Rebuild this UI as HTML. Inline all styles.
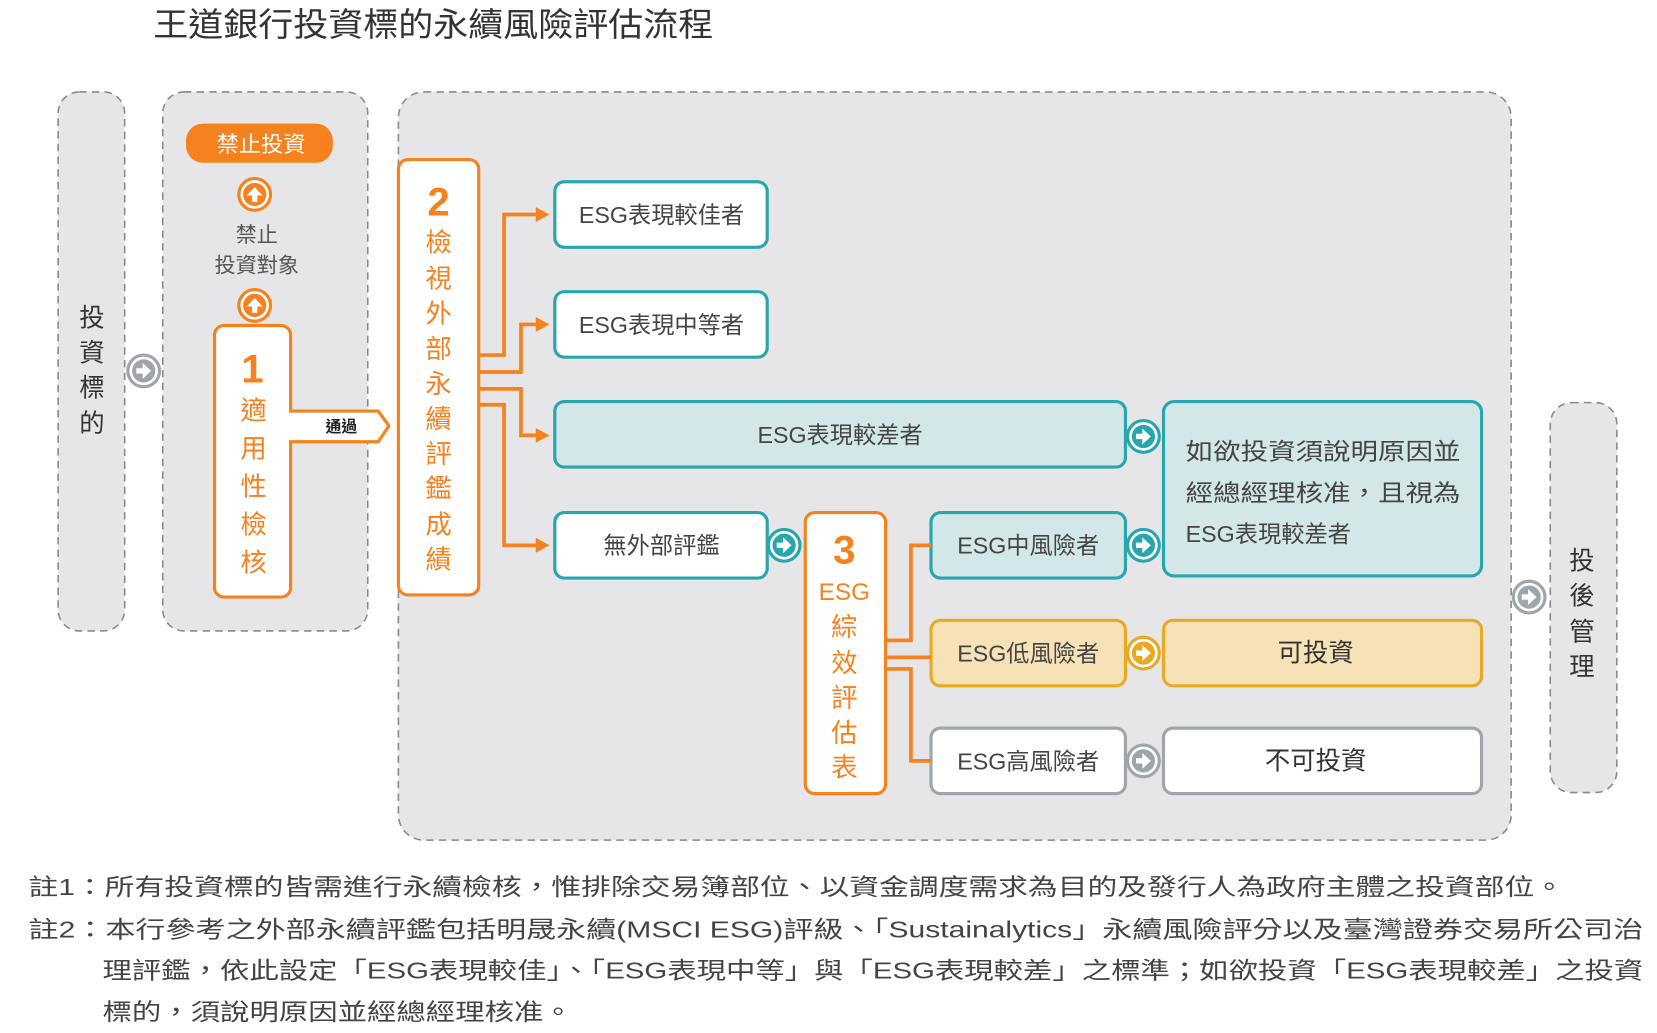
<!DOCTYPE html>
<html><head><meta charset="utf-8"><style>
html,body{margin:0;padding:0;background:#fff;}
svg{display:block;}
text{font-family:"Liberation Sans","Noto Sans CJK TC",sans-serif;}
</style></head><body>
<svg width="1657" height="1033" viewBox="0 0 1568 977.5" preserveAspectRatio="none" xmlns="http://www.w3.org/2000/svg">
<defs>
<g id="ar"><path d="M-7,-2.5 h6 v-5 l8,7.5 l-8,7.5 v-5 h-6z" fill="#fff"/></g>
</defs>
<text x="145" y="34" font-size="31" fill="#333" textLength="530" lengthAdjust="spacingAndGlyphs">王道銀行投資標的永續風險評估流程</text>

<!-- dashed containers -->
<rect x="55" y="87" width="63" height="510" rx="20" fill="#e6e6e8" stroke="#8a8a8a" stroke-width="1.5" stroke-dasharray="7,5"/>
<rect x="154" y="87" width="194" height="510" rx="20" fill="#e6e6e8" stroke="#8a8a8a" stroke-width="1.5" stroke-dasharray="7,5"/>
<rect x="377" y="87" width="1053" height="708" rx="24" fill="#e6e6e8" stroke="#8a8a8a" stroke-width="1.5" stroke-dasharray="7,5"/>
<rect x="1467" y="381" width="63" height="369" rx="20" fill="#e6e6e8" stroke="#8a8a8a" stroke-width="1.5" stroke-dasharray="7,5"/>

<g font-size="24" fill="#333" text-anchor="middle">
<text x="87" y="309">投</text><text x="87" y="342">資</text><text x="87" y="375">標</text><text x="87" y="409">的</text>
<text x="1497" y="539">投</text><text x="1497" y="572">後</text><text x="1497" y="606">管</text><text x="1497" y="639">理</text>
</g>

<g transform="translate(136,351)"><circle r="15" fill="#fff" stroke="#a0a5ab" stroke-width="3"/><circle r="11" fill="#a0a5ab"/><use href="#ar"/></g>
<g transform="translate(1447,565)"><circle r="15" fill="#fff" stroke="#a0a5ab" stroke-width="3"/><circle r="11" fill="#a0a5ab"/><use href="#ar"/></g>

<rect x="176" y="117" width="139" height="37" rx="16" fill="#f5821f"/>
<text x="247" y="144" font-size="21" fill="#fff" text-anchor="middle">禁止投資</text>
<g transform="translate(241,184) rotate(-90)"><circle r="15" fill="#fff" stroke="#f5821f" stroke-width="3"/><circle r="11" fill="#f5821f"/><use href="#ar"/></g>
<text x="243" y="229" font-size="20" fill="#555" text-anchor="middle">禁止</text>
<text x="243" y="258" font-size="20" fill="#555" text-anchor="middle">投資對象</text>
<g transform="translate(241,289) rotate(-90)"><circle r="15" fill="#fff" stroke="#f5821f" stroke-width="3"/><circle r="11" fill="#f5821f"/><use href="#ar"/></g>

<path d="M272,389 H358 L368,403 L358,418 H272" fill="#fff" stroke="#f5821f" stroke-width="3" stroke-linejoin="round"/>
<rect x="203" y="308" width="72" height="257" rx="9" fill="#fff" stroke="#f5821f" stroke-width="3"/>
<rect x="271" y="390.5" width="6" height="26" fill="#fff"/>
<text x="323" y="409" font-size="15" font-weight="bold" fill="#222" text-anchor="middle">通過</text>
<g fill="#f5821f" text-anchor="middle">
<text x="239" y="362" font-size="38" font-weight="bold">1</text>
<g font-size="25"><text x="240" y="397">適</text><text x="240" y="433">用</text><text x="240" y="469">性</text><text x="240" y="505">檢</text><text x="240" y="541">核</text></g>
</g>

<rect x="377" y="151" width="76" height="412" rx="9" fill="#fff" stroke="#f5821f" stroke-width="3"/>
<g fill="#f5821f" text-anchor="middle">
<text x="415" y="204" font-size="38" font-weight="bold">2</text>
<g font-size="25"><text x="415" y="238">檢</text><text x="415" y="272">視</text><text x="415" y="305">外</text><text x="415" y="339">部</text><text x="415" y="372">永</text><text x="415" y="405">續</text><text x="415" y="438">評</text><text x="415" y="471">鑑</text><text x="415" y="505">成</text><text x="415" y="538">績</text></g>
</g>
<g fill="none" stroke="#f5821f" stroke-width="3.5">
<path d="M454,336 H477 V203 H510"/>
<path d="M454,352 H493 V307 H510"/>
<path d="M454,368 H493 V412 H510"/>
<path d="M454,383 H477 V516 H510"/>
</g>
<g fill="#f5821f">
<path d="M507,196 L520,203 L507,210z"/><path d="M507,300 L520,307 L507,314z"/><path d="M507,405 L520,412 L507,419z"/><path d="M507,509 L520,516 L507,523z"/>
</g>

<g stroke="#27a6ad" stroke-width="3">
<rect x="525" y="172" width="201" height="62" rx="9" fill="#fff"/>
<rect x="525" y="276" width="201" height="62" rx="9" fill="#fff"/>
<rect x="525" y="380" width="540" height="62" rx="9" fill="#d3e6e8"/>
<rect x="525" y="485" width="201" height="62" rx="9" fill="#fff"/>
<rect x="881" y="485" width="184" height="62" rx="9" fill="#d3e6e8"/>
<rect x="1101" y="380" width="301" height="165" rx="10" fill="#d3e6e8"/>
</g>
<rect x="881" y="587" width="184" height="62" rx="9" fill="#f7e2b8" stroke="#e8a923" stroke-width="3"/>
<rect x="1101" y="587" width="301" height="62" rx="9" fill="#f7e2b8" stroke="#e8a923" stroke-width="3"/>
<rect x="881" y="689" width="184" height="62" rx="9" fill="#fff" stroke="#a0a5ab" stroke-width="3"/>
<rect x="1101" y="689" width="301" height="62" rx="9" fill="#fff" stroke="#a0a5ab" stroke-width="3"/>

<g font-size="22" fill="#444" text-anchor="middle">
<text x="626" y="211">ESG表現較佳者</text>
<text x="626" y="315">ESG表現中等者</text>
<text x="795" y="419">ESG表現較差者</text>
<text x="626" y="524">無外部評鑑</text>
<text x="973" y="524">ESG中風險者</text>
<text x="973" y="626">ESG低風險者</text>
<text x="973" y="728">ESG高風險者</text>
</g>
<g font-size="22" fill="#444">
<text x="1122" y="435" textLength="260" lengthAdjust="spacingAndGlyphs">如欲投資須說明原因並</text>
<text x="1122" y="474" textLength="260" lengthAdjust="spacingAndGlyphs">經總經理核准，且視為</text>
<text x="1122" y="513">ESG表現較差者</text>
</g>
<text x="1245" y="626" font-size="24" fill="#333" text-anchor="middle">可投資</text>
<text x="1245" y="728" font-size="24" fill="#333" text-anchor="middle">不可投資</text>

<rect x="762" y="485" width="76" height="266" rx="9" fill="#fff" stroke="#f5821f" stroke-width="3"/>
<g fill="#f5821f" text-anchor="middle">
<text x="799" y="533" font-size="38" font-weight="bold">3</text>
<text x="799" y="568" font-size="23">ESG</text>
<g font-size="25"><text x="799" y="602">綜</text><text x="799" y="636">效</text><text x="799" y="669">評</text><text x="799" y="702">估</text><text x="799" y="735">表</text></g>
</g>
<g fill="none" stroke="#f5821f" stroke-width="3.5">
<path d="M839,606 H862 V516 H881"/>
<path d="M839,622 H881"/>
<path d="M839,633 H862 V720 H881"/>
</g>

<g transform="translate(742,516)"><circle r="15" fill="#fff" stroke="#27a6ad" stroke-width="3"/><circle r="11" fill="#27a6ad"/><use href="#ar"/></g>
<g transform="translate(1082,413)"><circle r="15" fill="#fff" stroke="#27a6ad" stroke-width="3"/><circle r="11" fill="#27a6ad"/><use href="#ar"/></g>
<g transform="translate(1082,516)"><circle r="15" fill="#fff" stroke="#27a6ad" stroke-width="3"/><circle r="11" fill="#27a6ad"/><use href="#ar"/></g>
<g transform="translate(1082,618)"><circle r="15" fill="#fff" stroke="#e8a923" stroke-width="3"/><circle r="11" fill="#e8a923"/><use href="#ar"/></g>
<g transform="translate(1082,720)"><circle r="15" fill="#fff" stroke="#a0a5ab" stroke-width="3"/><circle r="11" fill="#a0a5ab"/><use href="#ar"/></g>

<g font-size="22" fill="#444">
<text x="27" y="847" textLength="1453" lengthAdjust="spacingAndGlyphs">註1：所有投資標的皆需進行永續檢核，惟排除交易簿部位、以資金調度需求為目的及發行人為政府主體之投資部位。</text>
<text x="27" y="887" textLength="1528" lengthAdjust="spacingAndGlyphs">註2：本行參考之外部永續評鑑包括明晟永續(MSCI ESG)評級、「Sustainalytics」永續風險評分以及臺灣證券交易所公司治</text>
<text x="97" y="926" textLength="1458" lengthAdjust="spacingAndGlyphs">理評鑑，依此設定「ESG表現較佳」、「ESG表現中等」與「ESG表現較差」之標準；如欲投資「ESG表現較差」之投資</text>
<text x="97" y="965" textLength="445" lengthAdjust="spacingAndGlyphs">標的，須說明原因並經總經理核准。</text>
</g>
</svg>
</body></html>
